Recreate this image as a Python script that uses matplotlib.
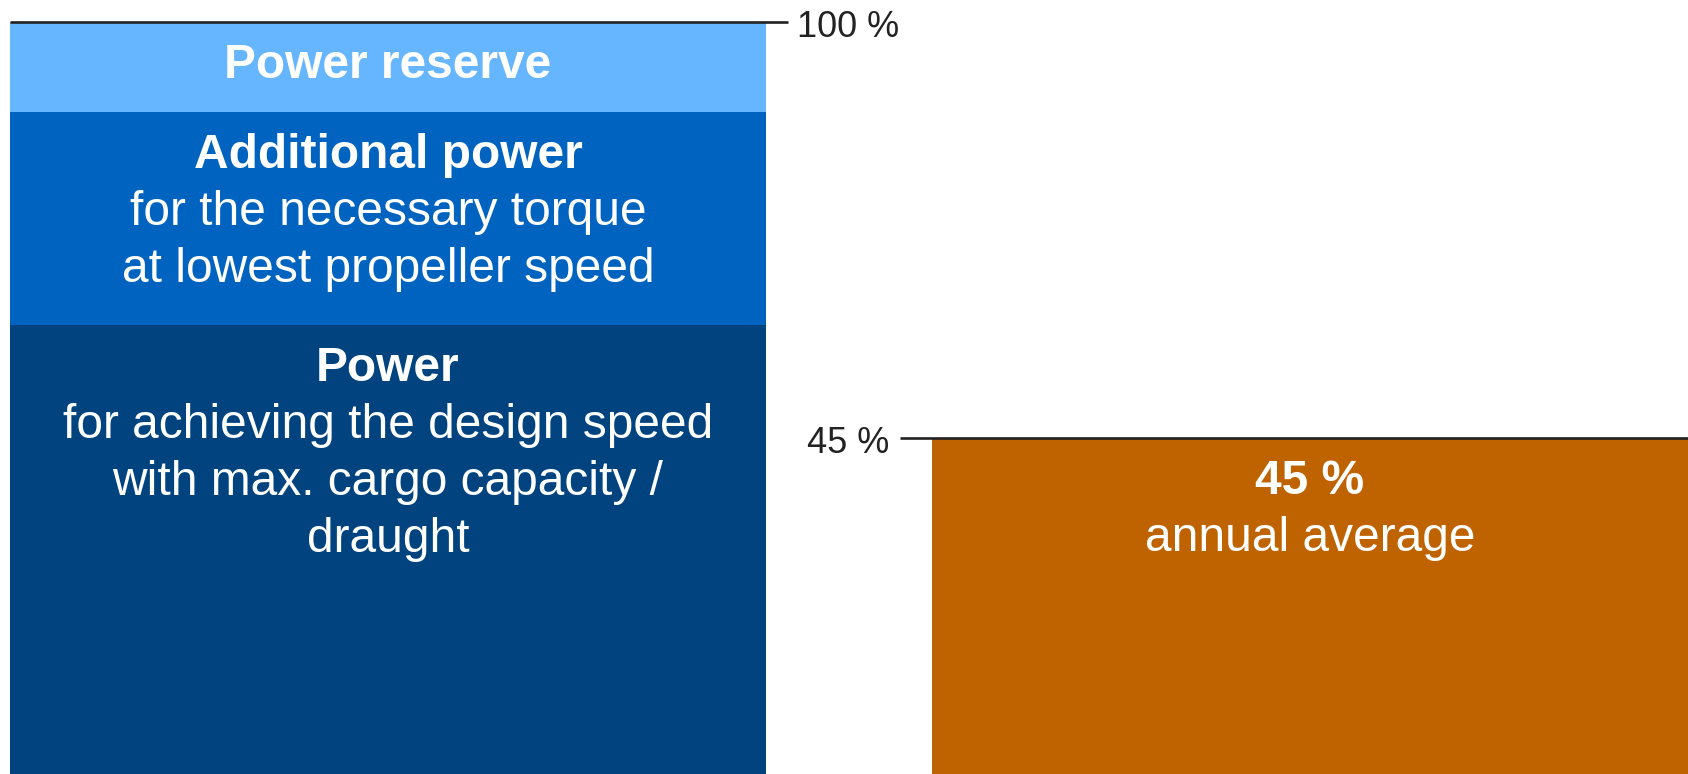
import matplotlib
matplotlib.use("Agg")
import matplotlib.pyplot as plt

# ---- data ----
segment_titles = ["Power", "Additional power", "Power reserve"]
segment_values = [60, 28, 12]
segment_sublines = [
    ["for achieving the design speed", "with max. cargo capacity /", "draught"],
    ["for the necessary torque", "at lowest propeller speed"],
    [],
]
segment_colors = ["#00437F", "#0063BF", "#66B5FF"]

average_value = 45
average_title = "45 %"
average_sublines = ["annual average"]
average_color = "#BF6200"

tick_values = [100, 45]
tick_labels = ["100 %", "45 %"]

# ---- figure ----
plt.rcParams['font.family'] = ['Liberation Sans', 'DejaVu Sans']
fig = plt.figure(figsize=(16.88, 7.74), dpi=100)
ax = fig.add_axes([0, 0, 1, 1])
ax.set_xlim(-0.4207, 1.4100)
ax.set_ylim(0.66, 102.84)
ax.axis('off')

W = 0.8202
FS = 34.5
FS_T = 26
LINE_C = "#222222"
PAD = 56      # pixels from segment top to first baseline
LSP = 57      # line spacing in pixels

def put_text(x, top, title, sublines):
    ax.annotate(title, xy=(x, top), xytext=(0, -PAD), textcoords='offset pixels',
                ha='center', va='baseline', fontsize=FS, fontweight='bold',
                color='white', zorder=5)
    for i, s in enumerate(sublines):
        ax.annotate(s, xy=(x, top), xytext=(0, -PAD - LSP * (i + 1)),
                    textcoords='offset pixels', ha='center', va='baseline',
                    fontsize=FS, color='white', zorder=5)

bottom = 0
for title, val, subs, col in zip(segment_titles, segment_values, segment_sublines, segment_colors):
    ax.bar(0, val, bottom=bottom, width=W, color=col, linewidth=0, zorder=2)
    put_text(0, bottom + val, title, subs)
    bottom += val

ax.bar(1, average_value, width=W, color=average_color, linewidth=0, zorder=2)
put_text(1, average_value, average_title, average_sublines)

# reference lines
ext1 = 22 / 922.1
ext2 = 32 / 922.1
ax.plot([-W / 2, W / 2 + ext1], [tick_values[0]] * 2, color=LINE_C, lw=1.9,
        solid_capstyle='butt', zorder=4)
ax.plot([1 - W / 2 - ext2, 1.45], [tick_values[1]] * 2, color=LINE_C, lw=1.9,
        solid_capstyle='butt', zorder=4)

ax.annotate(tick_labels[0], xy=(W / 2 + ext1, tick_values[0]), xytext=(9, -15),
            textcoords='offset pixels', ha='left', va='baseline',
            fontsize=FS_T, color=LINE_C)
ax.annotate(tick_labels[1], xy=(1 - W / 2 - ext2, tick_values[1]), xytext=(-11, -15),
            textcoords='offset pixels', ha='right', va='baseline',
            fontsize=FS_T, color=LINE_C)

fig.savefig("out.png", dpi=100, facecolor='white')
